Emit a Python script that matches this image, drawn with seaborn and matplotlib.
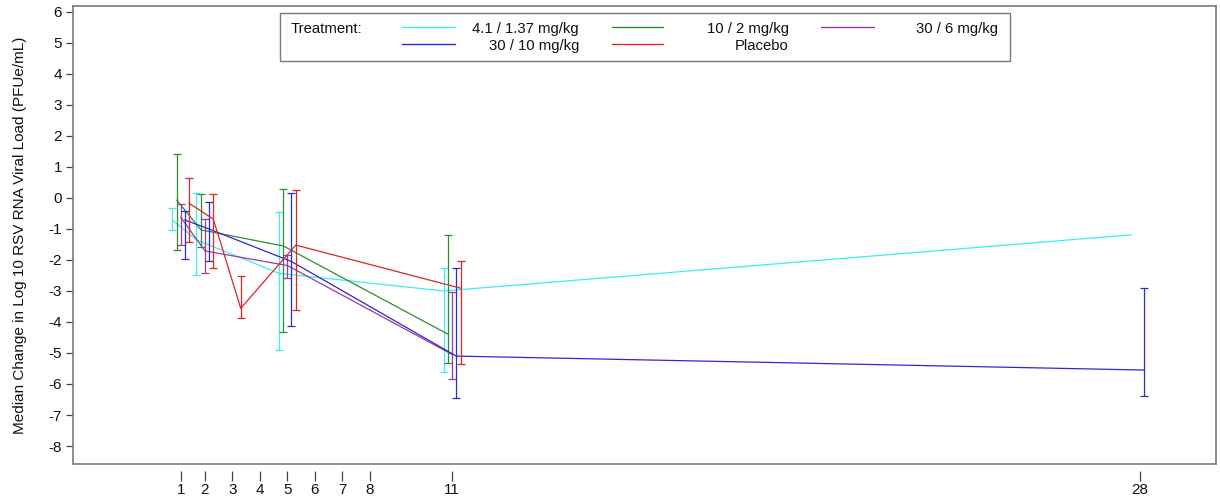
import numpy as np
import pandas as pd
import matplotlib
matplotlib.use("Agg")
import matplotlib.pyplot as plt
import matplotlib.transforms as mtransforms
from matplotlib.patches import Rectangle
from matplotlib.lines import Line2D
from matplotlib.ticker import NullLocator
import seaborn as sns

# study days and median change (log10 PFUe/mL) with error bar ends, per treatment
days_41 = [1, 2, 5, 11, 28]
median_41 = [-0.71, -1.35, -2.43, -3.00, -1.19]
low_41 = [-1.03, -2.48, -4.90, -5.62, np.nan]
high_41 = [-0.31, 0.17, -0.46, -2.25, np.nan]

days_10 = [1, 2, 5, 11]
median_10 = [-0.07, -1.03, -1.55, -4.40]
low_10 = [-1.69, -1.59, -4.31, -5.33]
high_10 = [1.42, 0.12, 0.28, -1.20]

days_30_6 = [1, 2, 5, 11]
median_30_6 = [-0.62, -1.71, -2.18, -5.05]
low_30_6 = [-1.53, -2.43, -2.59, -5.84]
high_30_6 = [-0.20, -0.67, -1.84, -3.02]

days_30_10 = [1, 2, 5, 11, 28]
median_30_10 = [-0.71, -1.00, -2.05, -5.10, -5.55]
low_30_10 = [-1.98, -2.03, -4.13, -6.45, -6.39]
high_30_10 = [-0.41, -0.12, 0.15, -2.25, -2.89]

days_pbo = [1, 2, 3, 5, 11]
median_pbo = [-0.17, -0.68, -3.56, -1.52, -2.91]
low_pbo = [-1.41, -2.25, -3.88, -3.61, -5.35]
high_pbo = [0.64, 0.12, -2.52, 0.26, -2.04]

x_ticks = [1, 2, 3, 4, 5, 6, 7, 8, 11, 28]
y_ticks = list(range(-8, 7))

# (label, days, median, low, high, colour, pixel offset)
series = [
    ("4.1 / 1.37 mg/kg", days_41, median_41, low_41, high_41, "#38F0F0", -8.5),
    ("10 / 2 mg/kg", days_10, median_10, low_10, high_10, "#2E8F2E", -4.0),
    ("30 / 6 mg/kg", days_30_6, median_30_6, low_30_6, high_30_6, "#9A3AA8", 0.0),
    ("30 / 10 mg/kg", days_30_10, median_30_10, low_30_10, high_30_10, "#2828DC", 4.0),
    ("Placebo", days_pbo, median_pbo, low_pbo, high_pbo, "#E42424", 8.3),
]

# the source axis is not linear in days; piecewise mapping
knot_day = np.array([-10.0, 1.0, 2.0, 11.0, 28.0, 40.0])
knot_pos = np.array([-11.0, 0.0, 0.887, 9.912, 35.01, 52.72])


def fwd(d):
    return np.interp(d, knot_day, knot_pos)


def inv(p):
    return np.interp(p, knot_pos, knot_day)


sns.set_style("white")
plt.rcParams["font.family"] = ["Liberation Sans", "DejaVu Sans"]

W, H = 1220, 497
fig = plt.figure(figsize=(W / 100, H / 100), dpi=100)
ax = fig.add_axes([73 / W, 1 - 464 / H, (1216 - 73) / W, (464 - 6) / H])
ax.set_xscale("function", functions=(fwd, inv))

for label, d, med, lo, hi, col, dx in series:
    off = ax.transData + mtransforms.ScaledTranslation(dx / 100, 0, fig.dpi_scale_trans)
    df = pd.DataFrame({"day": d, "median": med, "low": lo, "high": hi})
    sns.lineplot(data=df, x="day", y="median", color=col, lw=0.9,
                 transform=off, ax=ax, legend=False, sort=False)
    bars = df.dropna()
    ax.errorbar(bars["day"], bars["median"],
                yerr=[bars["median"] - bars["low"], bars["high"] - bars["median"]],
                fmt="none", ecolor=col, elinewidth=0.9, capsize=3, capthick=0.9,
                transform=off)

ax.set_xlim(-2.93, 29.88)
ax.set_ylim(-8.58, 6.19)
ax.set_xticks(x_ticks)
ax.set_xticklabels([str(t) for t in x_ticks])
ax.xaxis.set_minor_locator(NullLocator())
ax.set_yticks(y_ticks)
ax.set_yticklabels([str(t) for t in y_ticks])
ax.set_xlabel("")
ax.set_ylabel("Median Change in Log 10 RSV RNA Viral Load (PFUe/mL)", fontsize=11, color="#111111")
ax.yaxis.set_label_coords(-0.0405, 0.5)

frame_col = "#7a7a7a"
for s in ["left", "right", "top"]:
    ax.spines[s].set_color(frame_col)
    ax.spines[s].set_linewidth(1.2)
# ticks hang below the frame with a small gap
ax.spines["bottom"].set_position(("outward", 5))
ax.spines["bottom"].set_visible(False)
ax.plot([0, 1], [0, 0], transform=ax.transAxes, color=frame_col, lw=1.2, clip_on=False)

ax.tick_params(axis="x", direction="out", length=7, width=0.9, color="#444444",
               labelsize=11, labelcolor="#111111", pad=2, bottom=True)
ax.tick_params(axis="y", direction="out", length=5, width=0.9, color="#444444",
               labelsize=11, labelcolor="#111111", pad=3, left=True)


# legend box drawn by hand (labels are right aligned in the source)
def fx(px):
    return px / W


def fy(py):
    return 1 - py / H


fig.patches.append(Rectangle((fx(280), fy(61)), fx(1010) - fx(280), fy(12.7) - fy(61),
                             transform=fig.transFigure, fill=True, facecolor="white",
                             edgecolor=frame_col, lw=1.0, zorder=5))
fig.text(fx(291), fy(29), "Treatment:", fontsize=10.7, va="center", ha="left", color="#111111", zorder=6)

legend_slots = [
    (0, 402, 455, 579, 26.7, 29),
    (1, 612, 663, 789, 26.7, 29),
    (2, 821, 874, 998, 26.7, 29),
    (3, 402, 455, 579, 44.3, 46),
    (4, 612, 663, 789, 44.3, 46),
]
for idx, x0, x1, xt, yl, yt in legend_slots:
    label, col = series[idx][0], series[idx][5]
    fig.lines.append(Line2D([fx(x0), fx(x1)], [fy(yl), fy(yl)], transform=fig.transFigure,
                            color=col, lw=1.0, zorder=6))
    fig.text(fx(xt), fy(yt), label, fontsize=10.7, va="center", ha="right", color="#111111", zorder=6)

fig.savefig("out.png", dpi=100)
